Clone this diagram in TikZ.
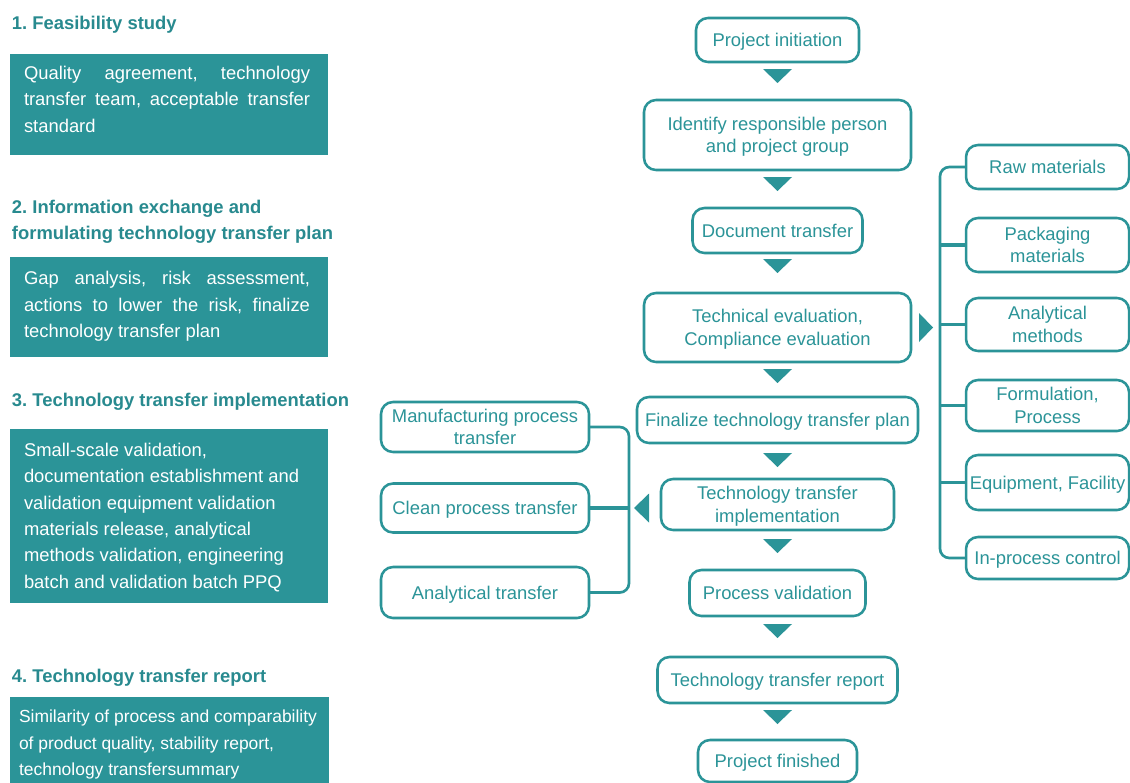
\documentclass[tikz,border=0pt]{standalone}
\usepackage{fontspec}
\setmainfont{Liberation Sans}
\usetikzlibrary{calc}
\definecolor{tealc}{RGB}{43,148,152}
\definecolor{headc}{RGB}{40,138,143}
\newcommand\dtri[2]{\fill[tealc] ($(#1.south)+(-14.5,#2)$) -- ++(29,0) -- ++(-14.5,14) -- cycle;}
\frenchspacing
\begin{document}
\frenchspacing
\begin{tikzpicture}[x=0.75pt,y=-0.75pt,
  every node/.style={inner sep=0pt, outer sep=0pt},
  flow/.style={draw=tealc, line width=1.9pt, rounded corners=9pt, fill=white, text=tealc, align=center,
    text depth=0pt, font=\frenchspacing\fontsize{13.8pt}{16.9pt}\selectfont},
  panel/.style={fill=tealc, draw=none},
  paneltext/.style={text=white, align=left, anchor=base west, font=\frenchspacing\fontsize{13.8pt}{19.7pt}\selectfont},
  head/.style={text=headc, align=left, anchor=base west, font=\frenchspacing\bfseries\fontsize{13.8pt}{19.5pt}\selectfont},
  spine/.style={draw=tealc, line width=2pt, rounded corners=7pt},
  twig/.style={draw=tealc, line width=2.6pt}]
\clip (0,0) rectangle (1130,782);
\fill[white] (0,0) rectangle (1130,782);

% ---------- left column (base west = baseline of last line) ----------
\node[head] (h1) at (12,29) {1. Feasibility study};
\node[panel, minimum width=318*0.75pt, minimum height=101*0.75pt] (p1) at (169,104.5) {};
\node[paneltext] (t1) at (24,132) {\makebox[214.5pt][s]{Quality agreement, technology}\\\makebox[214.5pt][s]{transfer team, acceptable transfer}\\standard};

\node[head] (h2) at (12,239.5) {2. Information exchange and\\formulating technology transfer plan};
\node[panel, minimum width=318*0.75pt, minimum height=100*0.75pt] (p2) at (169,307) {};
\node[paneltext] (t2) at (24,337.5) {\makebox[214.5pt][s]{Gap analysis, risk assessment,}\\\makebox[214.5pt][s]{actions to lower the risk, finalize}\\technology transfer plan};

\node[head] (h3) at (12,406.5) {3. Technology transfer implementation};
\node[panel, minimum width=318*0.75pt, minimum height=174*0.75pt] (p3) at (169,516) {};
\node[paneltext] (t3) at (24,588) {Small-scale validation,\\documentation establishment and\\validation equipment validation\\materials release, analytical\\methods validation, engineering\\batch and validation batch PPQ};

\node[head] (h4) at (12,682) {4. Technology transfer report};
\node[panel, minimum width=319*0.75pt, minimum height=93*0.75pt] (p4) at (169.5,743.5) {};
\node[paneltext, font=\frenchspacing\fontsize{13.1pt}{19.8pt}\selectfont] (t4) at (19,775.5) {Similarity of process and comparability\\of product quality, stability report,\\technology transfersummary};

% ---------- main flow ----------
\node[flow, minimum width=163*0.75pt, minimum height=44*0.75pt] (init) at (777.5,40) {Project initiation};
\node[flow, minimum width=267*0.75pt, minimum height=70*0.75pt] (ident) at (777.5,135) {Identify responsible person\\and project group};
\node[flow, minimum width=170*0.75pt, minimum height=45*0.75pt] (doc) at (777.5,230.5) {Document transfer};
\node[flow, minimum width=267*0.75pt, minimum height=69*0.75pt] (tech) at (777.5,327.5) {Technical evaluation,\\Compliance evaluation};
\node[flow, minimum width=281*0.75pt, minimum height=46*0.75pt] (final) at (777.5,420) {Finalize technology transfer plan};
\node[flow, minimum width=233*0.75pt, minimum height=51*0.75pt] (impl) at (777.5,504.5) {Technology transfer\\implementation};
\node[flow, minimum width=176*0.75pt, minimum height=46*0.75pt] (pval) at (777.5,593) {Process validation};
\node[flow, minimum width=240*0.75pt, minimum height=46*0.75pt] (rep) at (777.5,680) {Technology transfer report};
\node[flow, minimum width=159*0.75pt, minimum height=42*0.75pt] (fin) at (777.5,761) {Project finished};

\dtri{init}{7}
\dtri{ident}{7}
\dtri{doc}{6}
\dtri{tech}{7}
\dtri{final}{10}
\dtri{impl}{9}
\dtri{pval}{8}
\dtri{rep}{7}

% ---------- right branch ----------
\node[flow, minimum width=163*0.75pt, minimum height=44*0.75pt] (raw) at (1047.5,167) {Raw materials};
\node[flow, minimum width=163*0.75pt, minimum height=54*0.75pt] (pack) at (1047.5,245) {Packaging\\materials};
\node[flow, minimum width=163*0.75pt, minimum height=53*0.75pt] (anm) at (1047.5,324.5) {Analytical\\methods};
\node[flow, minimum width=163*0.75pt, minimum height=51*0.75pt] (form) at (1047.5,405.5) {Formulation,\\Process};
\node[flow, minimum width=163*0.75pt, minimum height=55*0.75pt] (equip) at (1047.5,482.5) {Equipment, Facility};
\node[flow, minimum width=163*0.75pt, minimum height=42*0.75pt] (ipc) at (1047.5,558) {In-process control};

\draw[spine] (raw.west) -- ++(-26,0) |- (ipc.west);
\draw[twig] (pack.west) -- ++(-26,0);
\draw[twig] (anm.west) -- ++(-26,0);
\draw[twig] (form.west) -- ++(-26,0);
\draw[twig] (equip.west) -- ++(-26,0);
\fill[tealc] ($(tech.east)+(8,-14.5)$) -- ++(0,29) -- ++(14,-14.5) -- cycle;

% ---------- left branch ----------
\node[flow, minimum width=208*0.75pt, minimum height=50*0.75pt] (mfg) at (485,427) {Manufacturing process\\transfer};
\node[flow, minimum width=208*0.75pt, minimum height=49*0.75pt] (clean) at (485,508) {Clean process transfer};
\node[flow, minimum width=208*0.75pt, minimum height=51*0.75pt] (anat) at (485,592.5) {Analytical transfer};

\draw[spine] (mfg.east) -- ++(40,0) |- (anat.east);
\draw[twig] (clean.east) -- ++(40,0) coordinate (ls);
\fill[tealc] ($(ls)+(5,0)$) -- ++(15,-14.5) -- ++(0,29) -- cycle;
\end{tikzpicture}
\end{document}
